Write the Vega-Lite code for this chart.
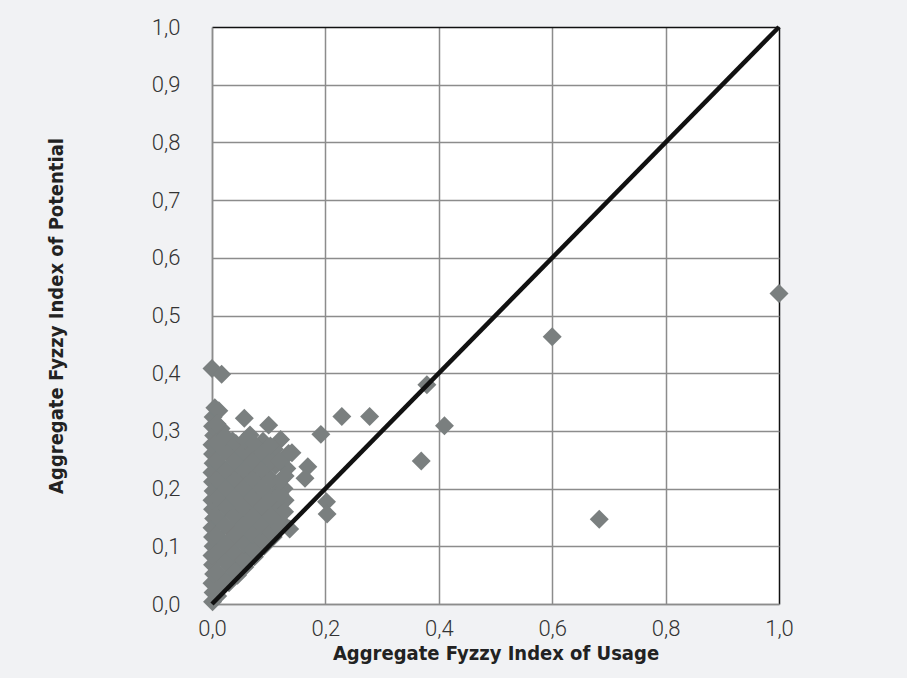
{
  "$schema": "https://vega.github.io/schema/vega-lite/v6.json",
  "width": 567,
  "height": 577,
  "autosize": {"type": "none"},
  "padding": {"left": 212, "top": 27, "right": 128, "bottom": 74},
  "background": "#f1f2f4",
  "config": {
    "view": {"fill": "white", "stroke": null},
    "axis": {
      "labelFont": "Roboto",
      "labelFontWeight": 300,
      "labelFontSize": 22,
      "labelColor": "#333333",
      "labelFlush": false,
      "labelOverlap": false,
      "titleFont": "DejaVu Sans Condensed",
      "titleFontSize": 20,
      "titleFontWeight": "bold",
      "titleColor": "#222222",
      "ticks": false,
      "domainColor": "#8c8c8c",
      "domainWidth": 1.5,
      "gridWidth": 1.5,
      "gridColor": {"condition": {"test": "datum.value >= 0.999", "value": "#111111"}, "value": "#8c8c8c"}
    }
  },
  "datasets": {
    "pts": [
      {"usage": 1.0, "potential": 0.538},
      {"usage": 0.6, "potential": 0.463},
      {"usage": 0.683, "potential": 0.147},
      {"usage": 0.379, "potential": 0.38},
      {"usage": 0.41, "potential": 0.309},
      {"usage": 0.369, "potential": 0.248},
      {"usage": 0.278, "potential": 0.325},
      {"usage": 0.229, "potential": 0.325},
      {"usage": 0.192, "potential": 0.294},
      {"usage": 0.202, "potential": 0.177},
      {"usage": 0.203, "potential": 0.156},
      {"usage": 0.137, "potential": 0.13},
      {"usage": 0.0, "potential": 0.408},
      {"usage": 0.017, "potential": 0.398},
      {"usage": 0.057, "potential": 0.322},
      {"usage": 0.1, "potential": 0.31},
      {"usage": 0.121, "potential": 0.285},
      {"usage": 0.135, "potential": 0.261},
      {"usage": 0.169, "potential": 0.238},
      {"usage": 0.164, "potential": 0.218},
      {"usage": 0.132, "potential": 0.235},
      {"usage": 0.141, "potential": 0.262},
      {"usage": 0.129, "potential": 0.18},
      {"usage": 0.12, "potential": 0.163},
      {"usage": 0.067, "potential": 0.293},
      {"usage": 0.001, "potential": 0.004},
      {"usage": 0.002, "potential": 0.02},
      {"usage": 0.0, "potential": 0.036},
      {"usage": 0.003, "potential": 0.052},
      {"usage": 0.001, "potential": 0.068},
      {"usage": 0.0, "potential": 0.084},
      {"usage": 0.002, "potential": 0.1},
      {"usage": 0.001, "potential": 0.116},
      {"usage": 0.0, "potential": 0.132},
      {"usage": 0.003, "potential": 0.148},
      {"usage": 0.001, "potential": 0.164},
      {"usage": 0.0, "potential": 0.18},
      {"usage": 0.002, "potential": 0.196},
      {"usage": 0.001, "potential": 0.212},
      {"usage": 0.0, "potential": 0.228},
      {"usage": 0.002, "potential": 0.244},
      {"usage": 0.001, "potential": 0.26},
      {"usage": 0.0, "potential": 0.276},
      {"usage": 0.003, "potential": 0.292},
      {"usage": 0.001, "potential": 0.308},
      {"usage": 0.002, "potential": 0.324},
      {"usage": 0.005, "potential": 0.34},
      {"usage": 0.012, "potential": 0.335},
      {"usage": 0.01, "potential": 0.014},
      {"usage": 0.016, "potential": 0.03},
      {"usage": 0.015, "potential": 0.048},
      {"usage": 0.017, "potential": 0.08},
      {"usage": 0.016, "potential": 0.112},
      {"usage": 0.014, "potential": 0.144},
      {"usage": 0.017, "potential": 0.176},
      {"usage": 0.016, "potential": 0.208},
      {"usage": 0.015, "potential": 0.24},
      {"usage": 0.017, "potential": 0.272},
      {"usage": 0.016, "potential": 0.304},
      {"usage": 0.03, "potential": 0.037},
      {"usage": 0.032, "potential": 0.064},
      {"usage": 0.031, "potential": 0.096},
      {"usage": 0.033, "potential": 0.128},
      {"usage": 0.032, "potential": 0.16},
      {"usage": 0.03, "potential": 0.192},
      {"usage": 0.032, "potential": 0.224},
      {"usage": 0.033, "potential": 0.256},
      {"usage": 0.036, "potential": 0.283},
      {"usage": 0.045, "potential": 0.05},
      {"usage": 0.048, "potential": 0.08},
      {"usage": 0.047, "potential": 0.112},
      {"usage": 0.049, "potential": 0.144},
      {"usage": 0.048, "potential": 0.176},
      {"usage": 0.046, "potential": 0.208},
      {"usage": 0.048, "potential": 0.24},
      {"usage": 0.05, "potential": 0.272},
      {"usage": 0.058, "potential": 0.064},
      {"usage": 0.064, "potential": 0.09},
      {"usage": 0.063, "potential": 0.128},
      {"usage": 0.065, "potential": 0.16},
      {"usage": 0.064, "potential": 0.192},
      {"usage": 0.062, "potential": 0.224},
      {"usage": 0.064, "potential": 0.256},
      {"usage": 0.075, "potential": 0.082},
      {"usage": 0.08, "potential": 0.112},
      {"usage": 0.079, "potential": 0.144},
      {"usage": 0.081, "potential": 0.176},
      {"usage": 0.08, "potential": 0.208},
      {"usage": 0.078, "potential": 0.24},
      {"usage": 0.082, "potential": 0.272},
      {"usage": 0.092, "potential": 0.1},
      {"usage": 0.096, "potential": 0.128},
      {"usage": 0.095, "potential": 0.16},
      {"usage": 0.097, "potential": 0.192},
      {"usage": 0.096, "potential": 0.224},
      {"usage": 0.094, "potential": 0.256},
      {"usage": 0.09, "potential": 0.282},
      {"usage": 0.108, "potential": 0.116},
      {"usage": 0.112, "potential": 0.144},
      {"usage": 0.111, "potential": 0.176},
      {"usage": 0.113, "potential": 0.208},
      {"usage": 0.112, "potential": 0.24},
      {"usage": 0.11, "potential": 0.268},
      {"usage": 0.125, "potential": 0.14},
      {"usage": 0.128, "potential": 0.16},
      {"usage": 0.127, "potential": 0.2},
      {"usage": 0.129, "potential": 0.222},
      {"usage": 0.008, "potential": 0.024},
      {"usage": 0.008, "potential": 0.056},
      {"usage": 0.009, "potential": 0.088},
      {"usage": 0.007, "potential": 0.12},
      {"usage": 0.008, "potential": 0.152},
      {"usage": 0.009, "potential": 0.184},
      {"usage": 0.008, "potential": 0.216},
      {"usage": 0.007, "potential": 0.248},
      {"usage": 0.008, "potential": 0.28},
      {"usage": 0.009, "potential": 0.312},
      {"usage": 0.024, "potential": 0.04},
      {"usage": 0.024, "potential": 0.072},
      {"usage": 0.025, "potential": 0.104},
      {"usage": 0.023, "potential": 0.136},
      {"usage": 0.024, "potential": 0.168},
      {"usage": 0.025, "potential": 0.2},
      {"usage": 0.024, "potential": 0.232},
      {"usage": 0.023, "potential": 0.264},
      {"usage": 0.024, "potential": 0.29},
      {"usage": 0.04, "potential": 0.056},
      {"usage": 0.04, "potential": 0.088},
      {"usage": 0.041, "potential": 0.12},
      {"usage": 0.039, "potential": 0.152},
      {"usage": 0.04, "potential": 0.184},
      {"usage": 0.041, "potential": 0.216},
      {"usage": 0.04, "potential": 0.248},
      {"usage": 0.042, "potential": 0.278},
      {"usage": 0.056, "potential": 0.076},
      {"usage": 0.056, "potential": 0.104},
      {"usage": 0.057, "potential": 0.136},
      {"usage": 0.055, "potential": 0.168},
      {"usage": 0.056, "potential": 0.2},
      {"usage": 0.057, "potential": 0.232},
      {"usage": 0.056, "potential": 0.264},
      {"usage": 0.058, "potential": 0.284},
      {"usage": 0.072, "potential": 0.094},
      {"usage": 0.072, "potential": 0.12},
      {"usage": 0.073, "potential": 0.152},
      {"usage": 0.071, "potential": 0.184},
      {"usage": 0.072, "potential": 0.216},
      {"usage": 0.073, "potential": 0.248},
      {"usage": 0.074, "potential": 0.278},
      {"usage": 0.088, "potential": 0.11},
      {"usage": 0.088, "potential": 0.136},
      {"usage": 0.089, "potential": 0.168},
      {"usage": 0.087, "potential": 0.2},
      {"usage": 0.088, "potential": 0.232},
      {"usage": 0.089, "potential": 0.262},
      {"usage": 0.104, "potential": 0.124},
      {"usage": 0.104, "potential": 0.152},
      {"usage": 0.105, "potential": 0.184},
      {"usage": 0.103, "potential": 0.216},
      {"usage": 0.104, "potential": 0.248},
      {"usage": 0.103, "potential": 0.274},
      {"usage": 0.12, "potential": 0.132},
      {"usage": 0.12, "potential": 0.19},
      {"usage": 0.121, "potential": 0.215},
      {"usage": 0.119, "potential": 0.248}
    ],
    "diag": [
      {"usage": 0, "potential": 0},
      {"usage": 1, "potential": 1}
    ]
  },
  "layer": [
    {
      "data": {"name": "pts"},
      "mark": {"type": "point", "shape": "diamond", "filled": true, "size": 360, "color": "#7a7f7f", "opacity": 1, "clip": false},
      "encoding": {
        "x": {
          "field": "usage", "type": "quantitative",
          "scale": {"domain": [0, 1], "nice": false, "zero": true},
          "axis": {
            "values": [0, 0.2, 0.4, 0.6, 0.8, 1.0],
            "labelExpr": "replace(format(datum.value, '.1f'), '.', ',')",
            "labelPadding": 14,
            "title": "Aggregate Fyzzy Index of Usage",
            "titlePadding": 4
          }
        },
        "y": {
          "field": "potential", "type": "quantitative",
          "scale": {"domain": [0, 1], "nice": false, "zero": true},
          "axis": {
            "values": [0, 0.1, 0.2, 0.3, 0.4, 0.5, 0.6, 0.7, 0.8, 0.9, 1.0],
            "labelExpr": "replace(format(datum.value, '.1f'), '.', ',')",
            "labelPadding": 32,
            "title": "Aggregate Fyzzy Index of Potential",
            "titlePadding": 85
          }
        }
      }
    },
    {
      "data": {"name": "diag"},
      "mark": {"type": "line", "color": "#111111", "strokeWidth": 4.5},
      "encoding": {
        "x": {"field": "usage", "type": "quantitative"},
        "y": {"field": "potential", "type": "quantitative"}
      }
    }
  ]
}
